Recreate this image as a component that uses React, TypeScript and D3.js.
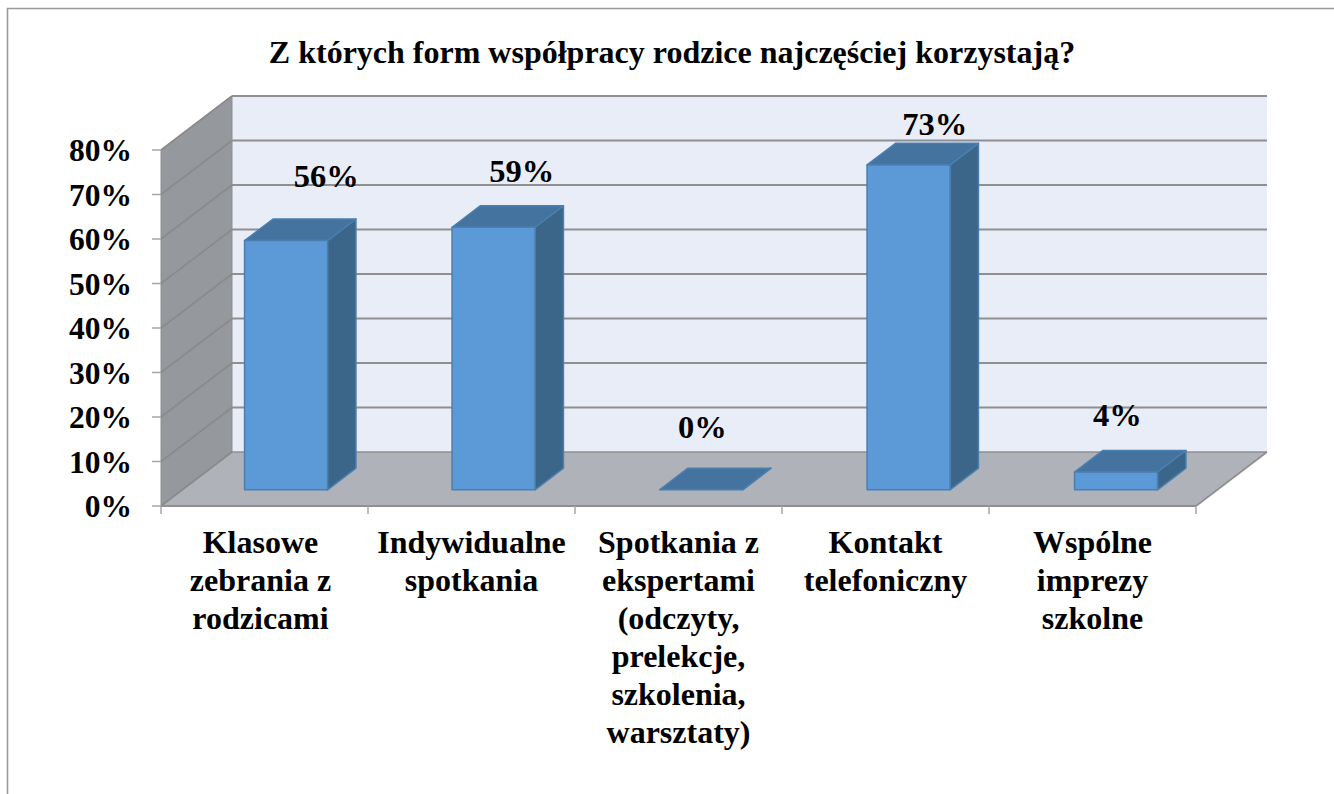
import React from "react";
import * as d3 from "d3";

const title = "Z których form współpracy rodzice najczęściej korzystają?";
const categories = ["Klasowe zebrania z rodzicami", "Indywidualne spotkania", "Spotkania z ekspertami", "Kontakt telefoniczny", "Wspólne imprezy szkolne"];
const categoryLines = [
  ["Klasowe", "zebrania z", "rodzicami"],
  ["Indywidualne", "spotkania"],
  ["Spotkania z", "ekspertami", "(odczyty,", "prelekcje,", "szkolenia,", "warsztaty)"],
  ["Kontakt", "telefoniczny"],
  ["Wspólne", "imprezy", "szkolne"],
];
const values = [56, 59, 0, 73, 4];
const valueTicks = [0, 10, 20, 30, 40, 50, 60, 70, 80];
const labelOffsets: [number, number][] = [[26, -54], [14, -45], [-13, -52], [12, -30], [-13, -46]];
const categoryShift = [-4, 0, 0, 0, 0];

const X0 = 161, X1 = 1196, Y0 = 506, Y1 = 150, DX = 71, DY = -54;
const FONT = "'Liberation Serif', serif";
const x = d3.scaleBand<string>().domain(categories).range([X0, X1 + 2.5]).paddingInner(0.6).paddingOuter(0.3);
const edge = d3.scaleLinear().domain([0, categories.length]).range([X0, X1]);
const y = d3.scaleLinear().domain([0, 80]).range([Y0, Y1]);
const poly = (pts: [number, number][]) => pts.map((p) => p.join(",")).join(" ");

export default function App() {
  const depthFront = 0.3, depthBack = 0.7;
  return (
    <svg width={1334} height={794} style={{ position: "absolute", left: 0, top: 0, background: "#fff" }} fontFamily={FONT} fontWeight="bold">
      <path d="M7.5 794V8.5H1334" fill="none" stroke="#9a9a9a" strokeWidth={1.6} />
      <text x={672} y={63} textAnchor="middle" fontSize={32}>{title}</text>

      {/* walls */}
      <polygon points={poly([[X0 + DX, y(80) + DY], [X1 + DX, y(80) + DY], [X1 + DX, y(0) + DY], [X0 + DX, y(0) + DY]])} fill="#e9edf8" />
      <polygon points={poly([[X0, y(0)], [X0 + DX, y(0) + DY], [X0 + DX, y(80) + DY], [X0, y(80)]])} fill="#95989c" stroke="#8e8e8e" strokeWidth={1} />
      <polygon points={poly([[X0, y(0)], [X1, y(0)], [X1 + DX, y(0) + DY], [X0 + DX, y(0) + DY]])} fill="#b0b2b9" />

      {/* gridlines */}
      {valueTicks.map((t) => (
        <g key={t}>
          <line x1={X0 + DX} x2={X1 + DX} y1={y(t) + DY} y2={y(t) + DY} stroke="#8f8f8f" strokeWidth={t > 0 ? 2.2 : 1.4} />
          <line x1={X0} y1={y(t)} x2={X0 + DX} y2={y(t) + DY} stroke="#8a8a8a" strokeWidth={1.6} />
          <line x1={X0 - 9} x2={X0} y1={y(t)} y2={y(t)} stroke="#a6a6a6" strokeWidth={1.5} />
          <text x={132} y={y(t) + 11} textAnchor="end" fontSize={31.5}>{t}%</text>
        </g>
      ))}
      <line x1={X1} y1={Y0} x2={X1 + DX} y2={Y0 + DY} stroke="#8f8f8f" strokeWidth={1.6} />
      <line x1={X0} x2={X1} y1={Y0} y2={Y0} stroke="#8f8f8f" strokeWidth={2.2} />

      {/* x axis */}
      {d3.range(categories.length + 1).map((i) => (
        <line key={i} x1={edge(i)} x2={edge(i)} y1={Y0} y2={Y0 + 8} stroke="#a6a6a6" strokeWidth={1.5} />
      ))}
      {categories.map((c, i) => (
        <text key={c} textAnchor="middle" fontSize={32}>
          {categoryLines[i].map((l, j) => (
            <tspan key={j} x={(edge(i) + edge(i + 1)) / 2 + categoryShift[i]} y={553 + j * 38}>{l}</tspan>
          ))}
        </text>
      ))}

      {/* bars */}
      {categories.map((c, i) => {
        const bx0 = x(c)! + DX * depthFront;
        const bx1 = bx0 + x.bandwidth();
        const by0 = y(0) + DY * depthFront;
        const by1 = y(values[i]) + DY * depthFront;
        const dx = DX * (depthBack - depthFront), dy = DY * (depthBack - depthFront);
        const [ox, oy] = labelOffsets[i];
        return (
          <g key={c} stroke="#4a7fb0" strokeWidth={1.5} strokeLinejoin="round">
            <polygon points={poly([[bx1, by0], [bx1 + dx, by0 + dy], [bx1 + dx, by1 + dy], [bx1, by1]])} fill="#3b6589" />
            <polygon points={poly([[bx0, by1], [bx1, by1], [bx1 + dx, by1 + dy], [bx0 + dx, by1 + dy]])} fill="#44739f" />
            <rect x={bx0} y={by1} width={bx1 - bx0} height={by0 - by1} fill="#5b9ad7" />
            <text x={(bx0 + bx1) / 2 + dx / 2 + ox} y={by1 + oy} stroke="none" fill="#000" textAnchor="middle" fontSize={32.5}>{values[i]}%</text>
          </g>
        );
      })}
    </svg>
  );
}
